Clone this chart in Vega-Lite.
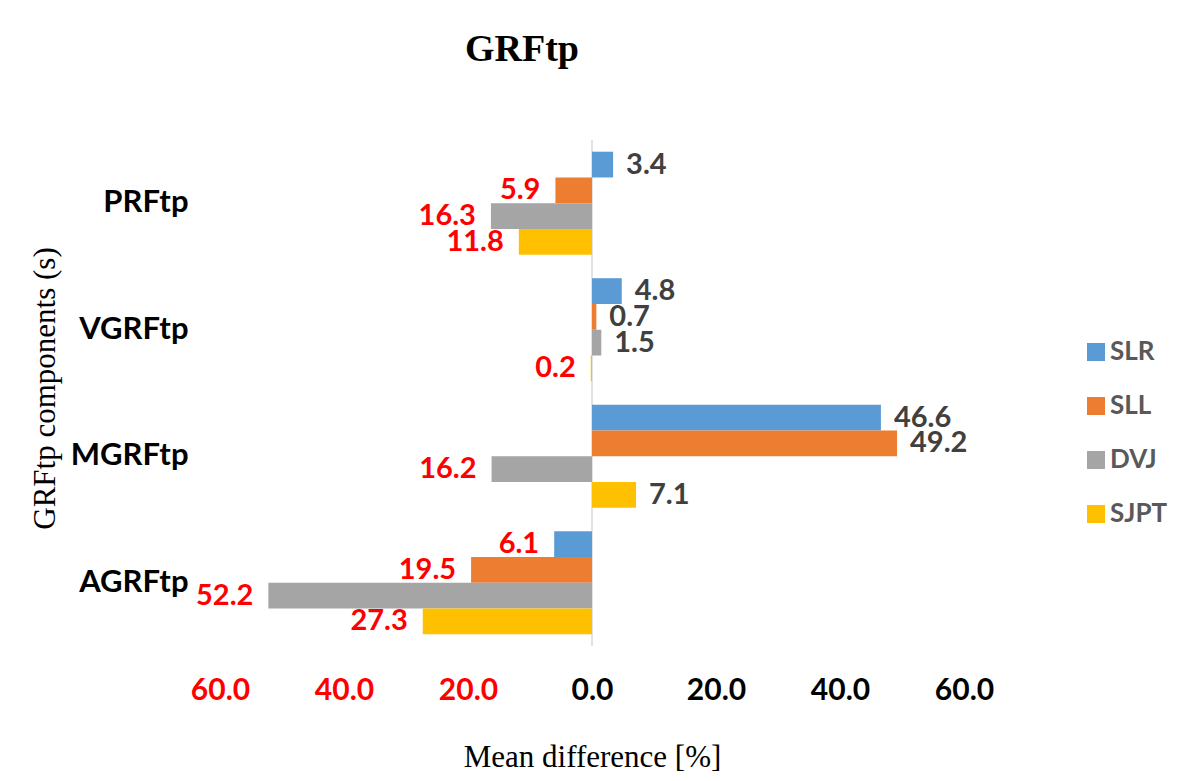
{
  "$schema": "https://vega.github.io/schema/vega-lite/v6.json",
  "width": 744,
  "height": 506,
  "autosize": {"type": "none"},
  "padding": {"left": 220, "top": 140, "right": 215, "bottom": 135},
  "background": "white",
  "config": {"view": {"stroke": null}},
  "title": {
    "text": "GRFtp",
    "font": "Liberation Serif",
    "fontSize": 38,
    "fontWeight": "bold",
    "color": "black",
    "anchor": "middle",
    "dx": -70,
    "offset": 40,
    "baseline": "alphabetic"
  },
  "encoding": {
    "x": {
      "field": "value",
      "type": "quantitative",
      "scale": {"domain": [-60, 60], "nice": false, "zero": false},
      "axis": {
        "values": [-60, -40, -20, 0, 20, 40, 60],
        "labelExpr": "format(abs(datum.value), '.1f')",
        "labelColor": {"condition": {"test": "datum.value < 0", "value": "#FF0000"}, "value": "black"},
        "labelFont": "Lato",
        "labelFontSize": 30,
        "labelFontWeight": "bold",
        "labelPadding": 29,
        "labelFlush": false,
        "labelOverlap": false,
        "domain": false,
        "ticks": false,
        "grid": false,
        "title": "Mean difference [%]",
        "titleFont": "Liberation Serif",
        "titleFontSize": 31,
        "titleFontWeight": "normal",
        "titleColor": "black",
        "titlePadding": 37
      }
    }
  },
  "layer": [
    {
      "data": {"values": [{"value": 0}]},
      "mark": {"type": "rule", "color": "#d9d9d9", "strokeWidth": 1.5},
      "encoding": {}
    },
    {
      "data": {"name": "bars", "values": [
        {"component": "PRFtp", "series": "SLR", "value": 3.4},
        {"component": "PRFtp", "series": "SLL", "value": -5.9},
        {"component": "PRFtp", "series": "DVJ", "value": -16.3},
        {"component": "PRFtp", "series": "SJPT", "value": -11.8},
        {"component": "VGRFtp", "series": "SLR", "value": 4.8},
        {"component": "VGRFtp", "series": "SLL", "value": 0.7},
        {"component": "VGRFtp", "series": "DVJ", "value": 1.5},
        {"component": "VGRFtp", "series": "SJPT", "value": -0.2},
        {"component": "MGRFtp", "series": "SLR", "value": 46.6},
        {"component": "MGRFtp", "series": "SLL", "value": 49.2},
        {"component": "MGRFtp", "series": "DVJ", "value": -16.2},
        {"component": "MGRFtp", "series": "SJPT", "value": 7.1},
        {"component": "AGRFtp", "series": "SLR", "value": -6.1},
        {"component": "AGRFtp", "series": "SLL", "value": -19.5},
        {"component": "AGRFtp", "series": "DVJ", "value": -52.2},
        {"component": "AGRFtp", "series": "SJPT", "value": -27.3}
      ]},
      "layer": [
        {
          "mark": {"type": "bar"},
          "encoding": {
            "x2": {"datum": 0},
            "color": {
              "field": "series",
              "type": "nominal",
              "scale": {"domain": ["SLR", "SLL", "DVJ", "SJPT"], "range": ["#5B9BD5", "#ED7D31", "#A5A5A5", "#FFC000"]},
              "legend": {
                "orient": "none",
                "legendX": 863,
                "legendY": 199,
                "title": null,
                "symbolType": "square",
                "symbolSize": 324,
                "symbolStrokeWidth": 0,
                "labelFont": "Lato",
                "labelFontSize": 26,
                "labelFontWeight": "bold",
                "labelColor": "#595959",
                "rowPadding": 28,
                "labelOffset": 1,
                "padding": 0
              }
            }
          }
        },
        {
          "mark": {
            "type": "text",
            "font": "Lato",
            "fontSize": 29,
            "fontWeight": "bold",
            "baseline": "middle",
            "align": {"expr": "datum.value >= 0 ? 'left' : 'right'"},
            "dx": {"expr": "datum.value >= 0 ? 13 : -15"},
            "text": {"expr": "format(abs(datum.value), '.1f')"}
          },
          "encoding": {
            "color": {"condition": {"test": "datum.value < 0", "value": "#FF0000"}, "value": "#404040"}
          }
        }
      ],
      "encoding": {
        "y": {
          "field": "component",
          "type": "nominal",
          "sort": ["PRFtp", "VGRFtp", "MGRFtp", "AGRFtp"],
          "scale": {"paddingInner": 0.185, "paddingOuter": 0.0925},
          "axis": {
            "title": "GRFtp components (s)",
            "titleFont": "Liberation Serif",
            "titleFontSize": 31,
            "titleFontWeight": "normal",
            "titleColor": "black",
            "titleAngle": -90,
            "titleX": -175,
            "titleY": 248,
            "titleAlign": "center",
            "titleBaseline": "middle",
            "labelFont": "Lato",
            "labelFontSize": 31,
            "labelFontWeight": "bold",
            "labelColor": "black",
            "labelPadding": 32,
            "domain": false,
            "ticks": false,
            "grid": false
          }
        },
        "yOffset": {
          "field": "series",
          "type": "nominal",
          "sort": ["SLR", "SLL", "DVJ", "SJPT"],
          "scale": {"paddingInner": 0, "paddingOuter": 0}
        }
      }
    }
  ]
}
